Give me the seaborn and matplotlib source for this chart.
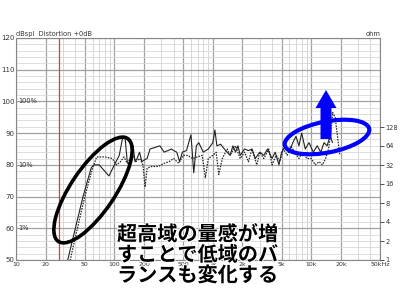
import numpy as np
import pandas as pd
import matplotlib
matplotlib.use("Agg")
import matplotlib.pyplot as plt
import seaborn as sns
from matplotlib.patches import Ellipse, FancyArrow
from matplotlib.ticker import FixedLocator, NullFormatter
import matplotlib.patheffects as pe

# ---- data ----
solid_f = [33, 36, 48, 58, 62, 70, 88, 100, 112, 122, 128, 135, 140, 148, 155, 162, 170, 180, 190, 200,
           215, 230, 260, 290, 320, 350, 380, 400, 430, 460, 490, 540, 600, 640, 680, 720, 800, 900, 1000, 1050,
           1100, 1200, 1350, 1500, 1600, 1700, 1800, 1900, 2100, 2300, 2500, 2700, 3000, 3300, 3600, 4000, 4300,
           4700, 5000, 5500, 6000, 6500, 7000, 7500, 8000, 8700, 9500, 10500, 11500, 12500, 13500, 14500, 15500, 16500]
solid_db = [49, 54, 70, 79, 80, 80, 76.5, 80, 83, 89, 89, 81, 80, 83, 86, 81, 82, 84, 81, 81.5,
            82, 85, 85.5, 86, 84, 84.5, 85, 84.5, 84, 81, 84, 84.5, 89.5, 77.5, 86, 87, 84, 85, 87, 91,
            86, 86.5, 84.5, 83, 86, 84, 86, 83, 85, 84.5, 85, 82, 84, 83, 85, 82, 84,
            80, 84, 86, 84, 87, 89, 86, 90, 85, 87, 84, 86, 84, 87, 86, 89, 87]

dot_f = [35, 38, 50, 60, 66, 80, 95, 105, 115, 125, 135, 145, 155, 165, 180, 195, 205, 215, 240, 280,
         320, 360, 400, 450, 500, 560, 620, 700, 780, 840, 900, 1000, 1080, 1150, 1250, 1400, 1500, 1700, 1900, 2100,
         2300, 2500, 2800, 3000, 3300, 3700, 4000, 4400, 4800, 5200, 5700, 6200, 6800, 7500, 8200, 9000, 10000,
         11000, 12000, 13000, 14000, 15000, 15800, 16500, 17500, 18500, 19500]
dot_db = [49, 54, 70, 79, 82.5, 82.5, 82, 80, 81, 82.5, 80.5, 82, 83, 81, 82, 80, 73, 79, 79.5, 79.5,
          80.5, 81, 82, 80.5, 83, 83, 82, 82.5, 83, 76, 82, 83, 84, 77, 82, 85, 83, 86, 82, 84,
          81, 85, 80, 84, 82, 85, 80, 83, 81, 85, 83, 86, 84, 82, 84, 82, 82,
          80, 81, 80, 82, 85, 90, 96.5, 95, 89, 83]

x_ticks = [10, 20, 50, 100, 200, 500, 1000, 2000, 5000, 10000, 20000, 50000]
x_labels = ["10", "20", "50", "100", "200", "500", "1k", "2k", "5k", "10k", "20k", "50kHz"]
y_ticks = [50, 60, 70, 80, 90, 100, 110, 120]
pct_levels = [100, 80, 60]
pct_labels = ["100%", "10%", "1%"]
ohm_ticks = [1, 2, 4, 8, 16, 32, 64, 128]
red_line_f = 27.5

note = ["超高域の量感が増", "すことで低域のバ", "ランスも変化する"]

df_s = pd.DataFrame({"f": solid_f, "db": solid_db})
df_d = pd.DataFrame({"f": dot_f, "db": dot_db})

# ---- figure ----
sns.set_style("white")
plt.rcParams['font.family'] = ['DejaVu Sans']
fig = plt.figure(figsize=(4, 3), dpi=100)
fig.patch.set_facecolor("white")
ax = fig.add_axes([16/400, 1-260/300, (380-16)/400, (260-38)/300])
ax.set_xscale("log")
ax.set_xlim(10, 50000)
ax.set_ylim(50, 120)

# grid
minor_x = []
for dec in [10, 100, 1000, 10000]:
    for m in range(1, 10):
        v = dec * m
        if v <= 50000:
            minor_x.append(v)
for v in minor_x:
    m = int(round(v / 10**int(np.floor(np.log10(v)))))
    strong = m in (1, 2, 5)
    ax.axvline(v, color="#a0a0a0" if strong else "#d0d0d0", lw=0.9 if strong else 0.6, zorder=0)
for v in range(50, 121, 2):
    strong = v % 10 == 0
    ax.axhline(v, color="#a0a0a0" if strong else "#d8d8d8", lw=0.9 if strong else 0.6, zorder=0)

ax.axvline(red_line_f, color="#d04040", lw=0.9, zorder=1)

sns.lineplot(data=df_s, x="f", y="db", ax=ax, color="#222222", lw=0.8, zorder=3)
sns.lineplot(data=df_d, x="f", y="db", ax=ax, color="#222222", lw=0.9, zorder=3,
             linestyle=(0, (1.2, 1.0)))

ax.set_xlabel("")
ax.set_ylabel("")
ax.xaxis.set_major_locator(FixedLocator(x_ticks))
ax.set_xticklabels(x_labels)
ax.xaxis.set_minor_formatter(NullFormatter())
ax.tick_params(axis="x", which="both", length=0, pad=1.5, labelsize=4.5, colors="#333333")
ax.set_yticks(y_ticks)
ax.set_yticklabels([str(v) for v in y_ticks])
ax.tick_params(axis="y", length=0, pad=1, labelsize=5, colors="#333333")
for s in ax.spines.values():
    s.set_color("#888888")
    s.set_linewidth(0.8)

for lv, lab in zip(pct_levels, pct_labels):
    ax.text(0.006, lv, lab, transform=ax.get_yaxis_transform(), fontsize=4.8,
            va="center", ha="left", color="#333333")

ax2 = ax.twinx()
ax2.set_yscale("log", base=2)
ax2.set_ylim(1, 2 ** (222 / 19))
ax2.yaxis.set_major_locator(FixedLocator(ohm_ticks))
ax2.set_yticklabels([str(v) for v in ohm_ticks])
ax2.yaxis.set_minor_locator(FixedLocator([]))
ax2.tick_params(axis="y", length=3, width=0.6, pad=1, labelsize=4.8, colors="#333333")
for s in ax2.spines.values():
    s.set_visible(False)

fig.text(16/400, 1-34/300, "dBspl  Distortion +0dB", fontsize=4.8, color="#333333", va="center")
fig.text(380/400, 1-34/300, "ohm", fontsize=4.8, color="#333333", va="center", ha="right")

# ---- overlay annotations (pixel coordinates) ----
ov = fig.add_axes([0, 0, 1, 1], zorder=10)
ov.set_xlim(0, 400)
ov.set_ylim(300, 0)
ov.axis("off")
ov.patch.set_alpha(0)

ov.add_patch(Ellipse((93, 190), width=124, height=44, angle=-56, fill=False,
                     edgecolor="black", lw=2.6))
ov.add_patch(Ellipse((327, 137), width=86, height=31, angle=-11, fill=False,
                     edgecolor="#0000ff", lw=3.0))
ov.add_patch(FancyArrow(326, 139, 0, -49, width=11, head_width=21, head_length=18,
                        length_includes_head=True, color="#0000ff", lw=0))

for i, line in enumerate(note):
    ov.text(117, 234 + i * 20.5, line, fontsize=14.5, fontweight="bold",
            family=["Noto Sans CJK JP", "DejaVu Sans"], color="black", va="center", ha="left",
            path_effects=[pe.withStroke(linewidth=1.5, foreground="white")])

fig.savefig("out.png", dpi=100, facecolor="white")
